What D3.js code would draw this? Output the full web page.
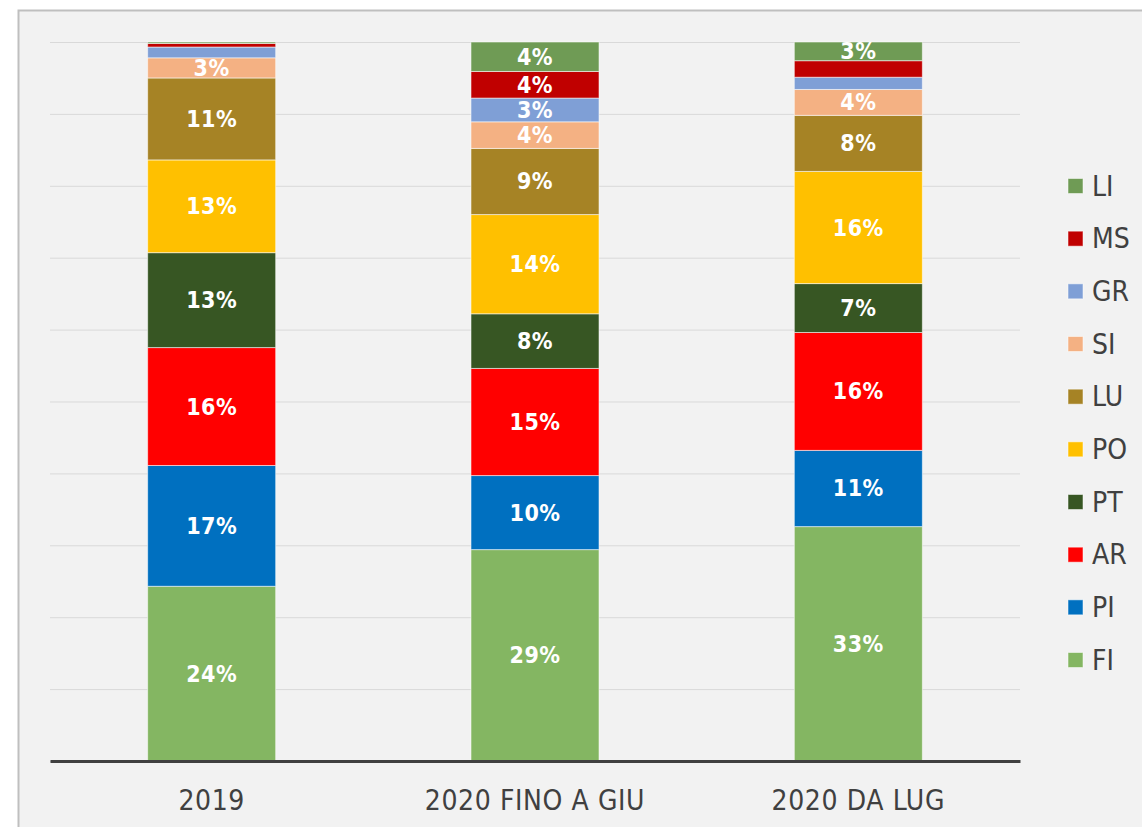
<!DOCTYPE html>
<html>
<head>
<meta charset="utf-8">
<script src="https://cdn.jsdelivr.net/npm/d3@7"></script>
<style>
  body { margin: 0; background: #ffffff; }
  svg { display: block; }
</style>
</head>
<body>
<div id="chart"></div>
<script>
// categories on the x axis
const categories = ["2019", "2020 FINO A GIU", "2020 DA LUG"];

// provinces, bottom to top of the stack
const provinces = ["FI", "PI", "AR", "PT", "PO", "LU", "SI", "GR", "MS", "LI"];

// share (%) per province, one value per category
const fiValues = [24.3, 29.4, 32.6];
const piValues = [16.8, 10.3, 10.6];
const arValues = [16.4, 14.9, 16.4];
const ptValues = [13.2, 7.6, 6.8];
const poValues = [12.9, 13.8, 15.6];
const luValues = [11.4, 9.2, 7.8];
const siValues = [2.8, 3.7, 3.6];
const grValues = [1.5, 3.3, 1.7];
const msValues = [0.5, 3.7, 2.3];
const liValues = [0.2, 4.1, 2.6];

const gridTicks = [0, 10, 20, 30, 40, 50, 60, 70, 80, 90, 100];

const seriesValues = {
    FI: fiValues, PI: piValues, AR: arValues, PT: ptValues, PO: poValues,
    LU: luValues, SI: siValues, GR: grValues, MS: msValues, LI: liValues
};

const colors = {
    FI: "#84b662", PI: "#0070c0", AR: "#ff0000", PT: "#375623", PO: "#ffc000",
    LU: "#a68325", SI: "#f4b183", GR: "#7f9fd6", MS: "#c00000", LI: "#6f9b55"
};

// build rows for d3.stack
const rows = categories.map((c, i) => {
    const row = { category: c };
    provinces.forEach(p => row[p] = seriesValues[p][i]);
    return row;
});

const width = 1142;
const height = 827;
const marginLeft = 50;
const marginRight = 122;
const marginTop = 42;
const baselineY = 761;
const fontFamily = "'DejaVu Sans Condensed', 'DejaVu Sans', sans-serif";

const svg = d3.select("#chart").append("svg")
    .attr("width", width)
    .attr("height", height);

// chart frame
svg.append("rect")
    .attr("x", 18.5)
    .attr("y", 10.5)
    .attr("width", width + 20)
    .attr("height", height + 20)
    .attr("fill", "#f2f2f2")
    .attr("stroke", "#bfbfbf")
    .attr("stroke-width", 2);

const x = d3.scaleBand()
    .domain(categories)
    .range([marginLeft, width - marginRight])
    .paddingInner(0.604)
    .paddingOuter(0.302);

const y = d3.scaleLinear()
    .domain([0, 100])
    .range([baselineY, marginTop]);

// horizontal gridlines
const grid = svg.append("g")
    .attr("transform", `translate(${marginLeft},0)`)
    .call(d3.axisLeft(y)
        .tickValues(gridTicks)
        .tickSize(-(width - marginRight - marginLeft))
        .tickFormat(""));
grid.select(".domain").remove();
grid.selectAll(".tick line").attr("stroke", "#d9d9d9").attr("stroke-width", 1);

const stacked = d3.stack().keys(provinces)(rows);

const layers = svg.append("g")
    .selectAll("g")
    .data(stacked)
    .join("g")
    .attr("fill", d => colors[d.key]);

layers.selectAll("rect")
    .data(d => d)
    .join("rect")
    .attr("x", d => x(d.data.category))
    .attr("y", d => y(d[1]))
    .attr("width", x.bandwidth())
    .attr("height", d => y(d[0]) - y(d[1]))
    .attr("stroke", "#ffffff")
    .attr("stroke-opacity", 0.55)
    .attr("stroke-width", 1);

// data labels, only on segments large enough
layers.selectAll("text")
    .data(d => d.map(v => ({ v, key: d.key })))
    .join("text")
    .filter(d => d.v[1] - d.v[0] >= 2.5)
    .attr("x", d => x(d.v.data.category) + x.bandwidth() / 2)
    .attr("y", d => y((d.v[0] + d.v[1]) / 2))
    .attr("text-anchor", "middle")
    .attr("dominant-baseline", "central")
    .attr("fill", "#ffffff")
    .style("font-family", fontFamily)
    .style("font-weight", "bold")
    .style("font-size", "23px")
    .style("letter-spacing", "0.5px")
    .text(d => Math.round(d.v[1] - d.v[0]) + "%");

// category axis
const xAxis = svg.append("g")
    .attr("transform", `translate(0,${baselineY})`)
    .call(d3.axisBottom(x).tickSize(0).tickPadding(29).tickSizeOuter(0));
xAxis.select(".domain")
    .attr("stroke", "#404040")
    .attr("stroke-width", 3);
xAxis.selectAll("text")
    .attr("fill", "#404040")
    .style("font-family", fontFamily)
    .style("font-size", "28px")
    .style("letter-spacing", "0.6px");

// legend, top to bottom LI..FI
const legendItems = provinces.slice().reverse();
const legendY = d3.scalePoint()
    .domain(legendItems)
    .range([186, 660]);

const legend = svg.append("g")
    .selectAll("g")
    .data(legendItems)
    .join("g")
    .attr("transform", d => `translate(1068,${legendY(d)})`);

legend.append("rect")
    .attr("x", 0)
    .attr("y", -7.5)
    .attr("width", 15)
    .attr("height", 15)
    .attr("fill", d => colors[d])
    .attr("stroke", "#ffffff")
    .attr("stroke-opacity", 0.5);

legend.append("text")
    .attr("x", 24)
    .attr("y", 0)
    .attr("dominant-baseline", "central")
    .attr("fill", "#404040")
    .style("font-family", fontFamily)
    .style("font-size", "28px")
    .text(d => d);
</script>
</body>
</html>
